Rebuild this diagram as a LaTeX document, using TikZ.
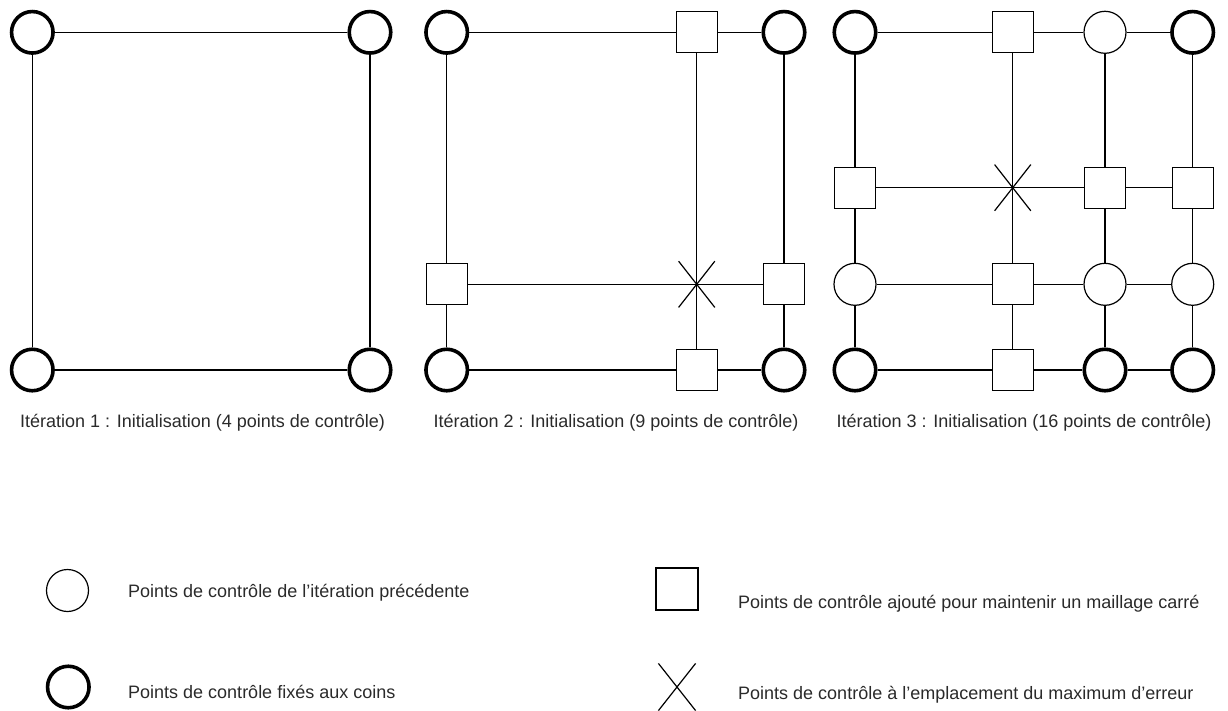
\documentclass[tikz,border=0pt]{standalone}
\usepackage{fontspec}
\setmainfont{Liberation Sans}
\usetikzlibrary{shapes.misc}
\definecolor{txt}{HTML}{2A2A2A}
\begin{document}
\begin{tikzpicture}[x=1pt,y=-1pt,
  thickc/.style={circle,draw,fill=white,line width=3.6pt,minimum size=41.5pt,inner sep=0pt},
  thinc/.style={circle,draw,fill=white,line width=1.2pt,minimum size=42pt,inner sep=0pt},
  sq/.style={rectangle,draw,fill=white,line width=1.3pt,minimum size=41pt,inner sep=0pt},
  xm/.style={cross out,draw,line width=1.2pt,minimum width=35pt,minimum height=45pt,inner sep=0pt},
  ln/.style={line width=1.3pt},
  captxt/.style={anchor=base,text=txt,font=\fontsize{18}{21}\selectfont,inner sep=0pt},
  legtxt/.style={anchor=base west,text=txt,font=\fontsize{18}{21}\selectfont,inner sep=0pt}]
\useasboundingbox (0,0) rectangle (1228,711);
% ---------- Panel 1 ----------
\node[thickc] (a00) at (32.3,32.3) {};
\node[thickc] (a01) at (370,32.3) {};
\node[thickc] (a10) at (32.3,370) {};
\node[thickc] (a11) at (370,370) {};
\draw[ln] (a00) -- (a01) (a00) -- (a10) (a01) -- (a11) (a10) -- (a11);
\node[captxt] (c1) at (202.5,427) {Itération 1 : Initialisation (4 points de contrôle)};
% ---------- Panel 2 ----------
\node[thickc] (b00) at (446.7,32.3) {};
\node[sq]     (b01) at (696.7,32.3) {};
\node[thickc] (b02) at (784,32.3) {};
\node[sq]     (b10) at (446.7,284.3) {};
\node[xm]     (b11) at (696.7,284.3) {};
\node[sq]     (b12) at (784,284.3) {};
\node[thickc] (b20) at (446.7,370) {};
\node[sq]     (b21) at (696.7,370) {};
\node[thickc] (b22) at (784,370) {};
\draw[ln] (b00) -- (b01) -- (b02);
\draw[ln] (b10) -- (b11.center) -- (b12);
\draw[ln] (b20) -- (b21) -- (b22);
\draw[ln] (b00) -- (b10) -- (b20);
\draw[ln] (b01) -- (b11.center) -- (b21);
\draw[ln] (b02) -- (b12) -- (b22);
\node[captxt] (c2) at (616,427) {Itération 2 : Initialisation (9 points de contrôle)};
% ---------- Panel 3 ----------
\node[thickc] (d00) at (855,32.3) {};
\node[sq]     (d01) at (1012.7,32.3) {};
\node[thinc]  (d02) at (1105,32.3) {};
\node[thickc] (d03) at (1192.7,32.3) {};
\node[sq]     (d10) at (855,187.7) {};
\node[xm]     (d11) at (1012.7,187.7) {};
\node[sq]     (d12) at (1105,187.7) {};
\node[sq]     (d13) at (1192.7,187.7) {};
\node[thinc]  (d20) at (855,284.3) {};
\node[sq]     (d21) at (1012.7,284.3) {};
\node[thinc]  (d22) at (1105,284.3) {};
\node[thinc]  (d23) at (1192.7,284.3) {};
\node[thickc] (d30) at (855,370) {};
\node[sq]     (d31) at (1012.7,370) {};
\node[thickc] (d32) at (1105,370) {};
\node[thickc] (d33) at (1192.7,370) {};
\draw[ln] (d00) -- (d01) -- (d02) -- (d03);
\draw[ln] (d10) -- (d11.center) -- (d12) -- (d13);
\draw[ln] (d20) -- (d21) -- (d22) -- (d23);
\draw[ln] (d30) -- (d31) -- (d32) -- (d33);
\draw[ln] (d00) -- (d10) -- (d20) -- (d30);
\draw[ln] (d01) -- (d11.center) -- (d21) -- (d31);
\draw[ln] (d02) -- (d12) -- (d22) -- (d32);
\draw[ln] (d03) -- (d13) -- (d23) -- (d33);
\node[captxt] (c3) at (1024,427) {Itération 3 : Initialisation (16 points de contrôle)};
% ---------- Legend ----------
\node[thinc]  (l1) at (67.5,590.5) {};
\node[legtxt] (t1) at (128,597.5) {Points de contrôle de l’itération précédente};
\node[thickc] (l2) at (68.3,687) {};
\node[legtxt] (t2) at (128,698) {Points de contrôle fixés aux coins};
\node[sq,minimum size=42pt] (l3) at (677,589) {};
\node[legtxt] (t3) at (738,608) {Points de contrôle ajouté pour maintenir un maillage carré};
\node[xm,minimum width=36pt,minimum height=46pt] (l4) at (677,687) {};
\node[legtxt] (t4) at (738,699) {Points de contrôle à l’emplacement du maximum d’erreur};
\end{tikzpicture}
\end{document}
